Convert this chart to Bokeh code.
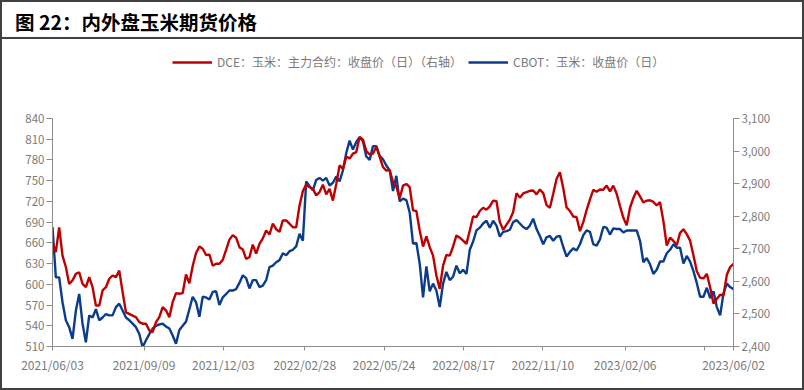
import pandas as pd
from bokeh.plotting import figure
from bokeh.models import (LinearAxis, Range1d, FixedTicker, Legend, LegendItem, Div,
                          CustomJSTickFormatter, NumeralTickFormatter, ColumnDataSource)
from bokeh.layouts import column
from bokeh.embed import file_html
from bokeh.resources import INLINE

title_text = "图 22：内外盘玉米期货价格"
dce_label = "DCE：玉米：主力合约：收盘价（日）（右轴）"
cbot_label = "CBOT：玉米：收盘价（日）"

start_date = "2021-06-03"
end_date = "2023-06-02"

tick_labels = ["2021/06/03", "2021/09/09", "2021/12/03", "2022/02/28", "2022/05/24",
               "2022/08/17", "2022/11/10", "2023/02/06", "2023/05/02", "2023/06/02"]
hidden_labels = ["2023/05/02"]

left_min, left_max = 510, 840
right_min, right_max = 2400, 3100
left_ticks = [510, 540, 570, 600, 630, 660, 690, 720, 750, 780, 810, 840]
right_ticks = [2400, 2500, 2600, 2700, 2800, 2900, 3000, 3100]

# CBOT corn close (cents/bushel, left axis)
cbot = [683, 610, 610, 574, 548, 538, 521, 562, 586, 543, 516, 555, 552, 564, 548, 552, 557, 555,
        555, 567, 572, 562, 552, 548, 543, 538, 528, 509, 519, 528, 536, 540, 542, 543, 539, 536,
        526, 514, 534, 540, 546, 564, 582, 574, 553, 582, 581, 578, 589, 590, 570, 581, 586,
        591, 591, 593, 602, 613, 609, 594, 606, 606, 596, 598, 606, 625, 627, 632, 635, 645,
        642, 648, 650, 655, 673, 663, 749, 742, 736, 751, 754, 750, 754, 743, 747, 756, 749, 765,
        790, 808, 795, 806, 813, 807, 785, 780, 800, 800, 786, 781, 772, 765, 735, 757, 720,
        724, 722, 704, 659, 660, 630, 581, 626, 590, 601, 591, 567, 601, 618, 606, 611, 627,
        616, 621, 615, 650, 662, 678, 682, 688, 692, 682, 692, 685, 669, 676, 677, 679, 690,
        693, 688, 683, 680, 685, 695, 680, 670, 658, 668, 670, 663, 669, 670, 654, 640, 647,
        652, 649, 658, 671, 678, 676, 658, 656, 665, 683, 682, 672, 681, 680, 680, 675, 678,
        678, 678, 678, 663, 632, 638, 629, 615, 621, 633, 633, 645, 650, 658, 653, 653, 630,
        641, 633, 619, 602, 582, 582, 595, 580, 590, 567, 555, 587, 601, 596, 593]

# DCE corn main contract close (yuan/ton, right axis)
dce = [2720, 2690, 2766, 2679, 2644, 2592, 2603, 2623, 2628, 2592, 2582, 2613, 2582, 2526, 2526,
       2572, 2582, 2608, 2618, 2613, 2633, 2567, 2505, 2500, 2495, 2490, 2475, 2470, 2470, 2449,
       2444, 2475, 2490, 2521, 2511, 2490,
       2536, 2564, 2562, 2564, 2621, 2594, 2647, 2687, 2707, 2700, 2681, 2682, 2648, 2654, 2654,
       2666, 2697, 2728, 2742, 2734, 2705, 2698, 2669, 2674, 2713, 2685, 2715, 2732, 2756, 2744,
       2777, 2760, 2752, 2787,
       2787, 2777, 2766, 2766, 2833, 2877, 2897, 2889, 2884, 2864, 2874, 2897, 2867, 2884, 2848,
       2899, 2956, 2945, 2983, 2977, 2992, 2997, 3043, 3035, 3000, 2990, 2992, 3014, 2983, 2951,
       2940, 2942, 2905, 2891, 2855,
       2894, 2899, 2889, 2818, 2816, 2756, 2707, 2738, 2705, 2679, 2618, 2577, 2648, 2681, 2679,
       2707, 2741, 2734, 2725, 2715, 2756, 2799, 2797, 2816, 2826, 2820, 2830, 2848, 2846, 2782,
       2758, 2774, 2789, 2813,
       2871, 2857, 2870, 2874, 2878, 2879, 2867, 2882, 2871, 2834, 2826, 2869, 2915, 2935, 2886,
       2827, 2816, 2799, 2797, 2754, 2782, 2819, 2852, 2881, 2875, 2882, 2881, 2894, 2876, 2894,
       2869, 2831, 2795, 2772,
       2826, 2856, 2878, 2861, 2842, 2848, 2849, 2844, 2833, 2843, 2785, 2710, 2734, 2724, 2711,
       2749, 2760, 2745, 2725, 2680, 2631, 2611, 2609, 2623, 2582, 2532, 2546, 2559, 2557, 2620,
       2644, 2654]

dates = pd.date_range(start_date, end_date, periods=len(cbot))
source = ColumnDataSource(dict(date=dates, cbot=cbot, dce=dce))

RED = "#C00000"
BLUE = "#0B3C8C"
GRAY_TXT = "#7a7a7a"
AXIS_C = "#8c8c8c"
BORDER_C = "#404040"
FONT = "Noto Sans CJK SC"

# layout (pixels)
FIG_W, FIG_H = 800, 349
MB_L, MB_R, MB_T, MB_B = 50, 69, 10, 42
AXIS_PX = 228          # height of the 510..840 span
EXTRA_PX = FIG_H - MB_T - MB_B - AXIS_PX   # room above the axes for the legend

left_top = left_max + (left_max - left_min) * EXTRA_PX / AXIS_PX
right_top = right_max + (right_max - right_min) * EXTRA_PX / AXIS_PX

tick_ms = [pd.Timestamp(t.replace("/", "-")).value / 1e6 for t in tick_labels]

p = figure(width=FIG_W, height=FIG_H, output_backend="svg", toolbar_location=None,
           x_axis_type="datetime",
           x_range=Range1d(dates[0], dates[-1]),
           y_range=Range1d(left_min, left_top),
           min_border_left=MB_L, min_border_right=MB_R,
           min_border_top=MB_T, min_border_bottom=MB_B)
p.extra_y_ranges = {"right": Range1d(right_min, right_top)}
p.background_fill_color = "white"
p.border_fill_color = "white"
p.outline_line_color = None
p.xgrid.visible = False
p.ygrid.visible = False

r_cbot = p.line("date", "cbot", source=source, line_color=BLUE, line_width=2.4)
r_dce = p.line("date", "dce", source=source, line_color=RED, line_width=2.4, y_range_name="right")

xa = p.xaxis[0]
xa.ticker = FixedTicker(ticks=tick_ms)
xa.formatter = CustomJSTickFormatter(args=dict(hidden=hidden_labels), code="""
const d = new Date(tick);
const y = d.getUTCFullYear();
const m = String(d.getUTCMonth() + 1).padStart(2, "0");
const dd = String(d.getUTCDate()).padStart(2, "0");
const s = y + "/" + m + "/" + dd;
return hidden.indexOf(s) >= 0 ? "" : s;
""")

ya = p.yaxis[0]
ya.ticker = FixedTicker(ticks=left_ticks)
ya.bounds = (left_min, left_max)

ra = LinearAxis(y_range_name="right", ticker=FixedTicker(ticks=right_ticks),
                formatter=NumeralTickFormatter(format="0,0"), bounds=(right_min, right_max))
p.add_layout(ra, "right")

for ax in [xa, ya, ra]:
    ax.axis_line_color = AXIS_C
    ax.axis_line_width = 1
    ax.major_tick_line_color = AXIS_C
    ax.major_tick_in = 0
    ax.minor_tick_line_color = None
    ax.major_label_text_color = GRAY_TXT
    ax.major_label_text_font = FONT
xa.major_tick_out = 4
xa.major_label_standoff = 5
xa.major_label_text_font_size = "12px"
ya.major_tick_out = 6
ya.major_label_standoff = 2
ya.major_label_text_font_size = "11.5px"
ra.major_tick_out = 6
ra.major_label_standoff = 2
ra.major_label_text_font_size = "11.5px"

legend = Legend(items=[LegendItem(label=dce_label, renderers=[r_dce]),
                       LegendItem(label=cbot_label, renderers=[r_cbot])],
                orientation="horizontal", location=(120, 276),
                glyph_width=40, glyph_height=14, label_height=14, label_standoff=5,
                spacing=6, padding=0, margin=0,
                label_text_font=FONT, label_text_font_size="12px", label_text_color=GRAY_TXT,
                border_line_color=None, background_fill_alpha=0)
p.add_layout(legend, "center")

title = Div(text=title_text, width=FIG_W, height=37, margin=(0, 0, 0, 0),
            styles={"font-family": FONT, "font-size": "19.5px", "font-weight": "bold",
                    "color": "#000000", "padding-left": "13px", "padding-top": "4px",
                    "line-height": "31px", "box-sizing": "border-box",
                    "border-bottom": "2px solid " + BORDER_C, "background": "white"})

lay = column(title, p, spacing=0,
             styles={"border": "2px solid " + BORDER_C, "background": "white"})

open("out.html", "w").write(file_html(lay, INLINE))
